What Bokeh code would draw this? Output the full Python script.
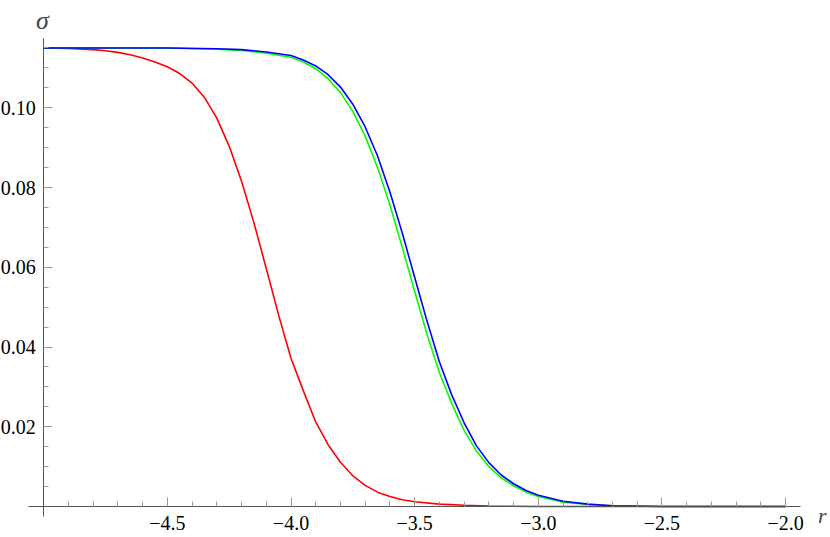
from bokeh.plotting import figure
from bokeh.models import FixedTicker, Label, Range1d
from bokeh.embed import file_html
from bokeh.resources import INLINE

# ---- data ----
r_red = [-5.0, -4.9, -4.8, -4.75, -4.7, -4.65, -4.6, -4.55, -4.5, -4.45,
         -4.4, -4.35, -4.3, -4.25, -4.2, -4.15, -4.1, -4.05, -4.0, -3.95,
         -3.9, -3.85, -3.8, -3.75, -3.7, -3.65, -3.6, -3.55, -3.5, -3.4,
         -3.3, -3.2, -3.0, -2.0]
s_red = [0.1150, 0.1149, 0.1146, 0.1143, 0.1139, 0.1133, 0.1125, 0.1115, 0.1103, 0.1086,
         0.1062, 0.1026, 0.0974, 0.0904, 0.0816, 0.0712, 0.0597, 0.0480, 0.0372, 0.0290,
         0.0212, 0.0155, 0.0111, 0.0077, 0.0053, 0.0036, 0.0025, 0.0017, 0.0012, 0.0006,
         0.0003, 0.0001, 0.0, 0.0]

r_bg = [-5.0, -4.5, -4.3, -4.2, -4.1, -4.0, -3.95, -3.9, -3.85, -3.8,
        -3.75, -3.7, -3.65, -3.6, -3.55, -3.5, -3.45, -3.4, -3.35, -3.3,
        -3.25, -3.2, -3.15, -3.1, -3.05, -3.0, -2.9, -2.8, -2.7, -2.5, -2.0]
s_green = [0.1150, 0.1150, 0.1147, 0.1144, 0.1137, 0.1127, 0.1115, 0.1098, 0.1073, 0.1038,
           0.0991, 0.0929, 0.0850, 0.0756, 0.0650, 0.0540, 0.0432, 0.0336, 0.0258, 0.0191,
           0.0139, 0.0100, 0.0072, 0.0052, 0.0036, 0.0025, 0.0011, 0.0005, 0.0002, 0.0, 0.0]
s_blue = [0.1150, 0.1150, 0.1148, 0.1146, 0.1140, 0.1131, 0.1120, 0.1105, 0.1083, 0.1052,
          0.1009, 0.0952, 0.0879, 0.0789, 0.0686, 0.0575, 0.0465, 0.0363, 0.0280, 0.0210,
          0.0152, 0.0110, 0.0079, 0.0057, 0.0040, 0.0028, 0.0013, 0.0006, 0.0002, 0.0, 0.0]

x_major = [-4.5, -4.0, -3.5, -3.0, -2.5, -2.0]
x_minor = [-4.9, -4.8, -4.7, -4.6, -4.4, -4.3, -4.2, -4.1, -3.9, -3.8, -3.7, -3.6,
           -3.4, -3.3, -3.2, -3.1, -2.9, -2.8, -2.7, -2.6, -2.4, -2.3, -2.2, -2.1]
y_major = [0.02, 0.04, 0.06, 0.08, 0.10]
y_minor = [0.005, 0.01, 0.015, 0.025, 0.03, 0.035, 0.045, 0.05, 0.055, 0.065, 0.07,
           0.075, 0.085, 0.09, 0.095, 0.105, 0.11, 0.115]

FONT = "Liberation Serif"

p = figure(width=830, height=537, output_backend="svg", toolbar_location=None,
           x_range=Range1d(-5.17469, -1.81844), y_range=Range1d(-0.007775, 0.126913),
           min_border=0)
p.outline_line_color = None
p.grid.visible = False
p.background_fill_color = "white"

p.line(r_red, s_red, line_color="#ff0000", line_width=1.6)
p.line(r_bg, s_green, line_color="#00ff00", line_width=1.6)
p.line(r_bg, s_blue, line_color="#0000ff", line_width=1.6)

for ax in (p.xaxis[0], p.yaxis[0]):
    ax.axis_line_color = "#555555"
    ax.axis_line_width = 1
    ax.major_tick_line_color = "#999999"
    ax.minor_tick_line_color = "#999999"
    ax.major_tick_in = 9
    ax.major_tick_out = 0
    ax.minor_tick_in = 5
    ax.minor_tick_out = 0
    ax.major_label_text_font = FONT
    ax.major_label_text_font_size = "20px"
    ax.major_label_text_color = "black"

xa, ya = p.xaxis[0], p.yaxis[0]
xa.fixed_location = 0
ya.fixed_location = -5.0
xa.bounds = (-5.0614, -1.9394)
ya.bounds = (-0.00251, 0.11738)
xa.ticker = FixedTicker(ticks=x_major, minor_ticks=x_minor)
ya.ticker = FixedTicker(ticks=y_major, minor_ticks=y_minor)
xa.major_label_overrides = {t: ("\u2212%.1f" % abs(t)) for t in x_major}
ya.major_label_overrides = {t: "%.2f" % t for t in y_major}
xa.major_label_standoff = 9
ya.major_label_standoff = 8

p.add_layout(Label(x=-5.031, y=0.1219, text="\u03c3",
                   text_font=FONT, text_font_style="italic", text_font_size="26px",
                   text_baseline="alphabetic", text_align="left"))
p.add_layout(Label(x=-1.869, y=-0.00226, text="r",
                   text_font=FONT, text_font_style="italic", text_font_size="22px",
                   text_baseline="alphabetic", text_align="left"))

open("out.html", "w").write(file_html(p, INLINE))
